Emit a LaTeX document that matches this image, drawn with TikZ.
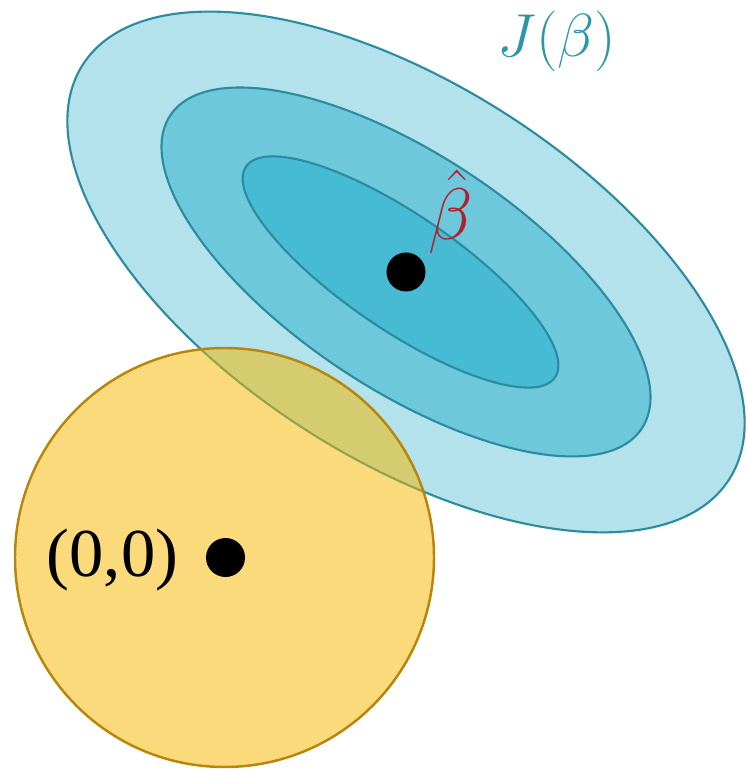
\documentclass[tikz,border=0pt]{standalone}
\usepackage{fontspec}
\usepackage{tikz}
\usetikzlibrary{positioning, calc}
\newfontfamily\serifa{Liberation Serif}
\definecolor{tealc}{HTML}{2A8C9E}
\definecolor{tealt}{HTML}{2A96A6}
\definecolor{celeste1}{HTML}{B3E2EC}
\definecolor{celeste2}{HTML}{6CC8DA}
\definecolor{celeste3}{HTML}{48BBD4}
\definecolor{ambar}{HTML}{F6B800}
\definecolor{ambaros}{HTML}{B8860B}
\definecolor{rojo}{HTML}{B22030}
\tikzset{
  contorno/.style={draw=tealc, line width=0.6pt},
  disco/.style={circle, draw=ambaros, line width=0.7pt, fill=ambar, fill opacity=0.52, draw opacity=1},
  punto/.style={circle, fill=black, inner sep=0pt, minimum size=0.39cm},
  etiqueta/.style={font=\fontsize{18}{20}\selectfont, inner sep=0pt}
}
\begin{document}
\begin{tikzpicture}
  \useasboundingbox (0,0) rectangle (7.45,-7.69);
  \coordinate (c) at (4.06,-2.72);
  % curvas de nivel
  \draw[contorno, fill=celeste1, rotate around={-32.7:(c)}] (c) ellipse (3.84 and 1.87);
  \draw[contorno, fill=celeste2, rotate around={-33.6:(c)}] (c) ellipse (2.83 and 1.17);
  \draw[contorno, fill=celeste3, rotate around={-34.3:(4.005,-2.72)}] (4.005,-2.72) ellipse (1.87 and 0.575);
  % region de restriccion
  \draw[disco] (2.245,-5.575) circle (2.095);
  \node (bhat) [punto] at (c) {};
  \node (origen) [punto] at (2.255,-5.575) {};
  \node (lorigen) [etiqueta, font=\serifa\fontsize{19.5}{21}\selectfont] at (1.125,-5.605) {(0,0)};
  \node (lbhat) [etiqueta, text=rojo, font=\fontsize{20}{22}\selectfont] at (4.51,-2.12) {$\hat{\beta}$};
  \node (lJ) [etiqueta, text=tealt] at (5.57,-0.41) {$J(\beta)$};
\end{tikzpicture}
\end{document}
